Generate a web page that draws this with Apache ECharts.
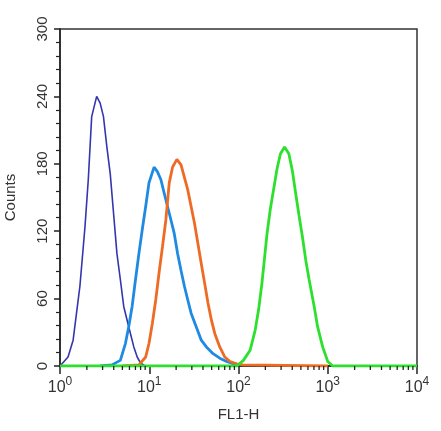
<!DOCTYPE html>
<html>
<head>
<meta charset="utf-8">
<script src="https://cdn.jsdelivr.net/npm/echarts@6/dist/echarts.min.js"></script>
<style>
html,body{margin:0;padding:0;background:#fff;}
#chart{width:441px;height:431px;}
</style>
</head>
<body>
<div id="chart"></div>
<script>
// x values are log10(FL1-H)
const yTicks = [0, 60, 120, 180, 240, 300];
const xDecades = [0, 1, 2, 3, 4];

const navyX = [0.0, 0.015, 0.09, 0.147, 0.185, 0.223, 0.28, 0.317, 0.355, 0.411, 0.45, 0.487, 0.525, 0.563, 0.6, 0.638, 0.676, 0.714, 0.77, 0.827, 0.865, 0.9, 0.95];
const navyY = [0, 1, 8, 23, 47, 71, 124, 166, 222, 240, 234, 222, 195, 171, 136, 100, 77, 53, 35, 17, 8, 3, 0];

const skyX = [0.45, 0.582, 0.676, 0.733, 0.77, 0.808, 0.846, 0.884, 0.921, 0.96, 0.997, 1.054, 1.091, 1.13, 1.167, 1.205, 1.243, 1.28, 1.318, 1.356, 1.394, 1.431, 1.469, 1.526, 1.583, 1.64, 1.715, 1.79, 1.866, 1.94, 2.0];
const skyY = [0, 1, 5, 20, 35, 53, 77, 100, 121, 142, 163, 177, 173, 166, 154, 142, 130, 118, 100, 85, 71, 59, 47, 35, 23, 17, 11, 7, 4, 2, 0];

const orangeX = [0.7, 0.884, 0.96, 0.997, 1.035, 1.073, 1.11, 1.148, 1.186, 1.224, 1.261, 1.31, 1.356, 1.394, 1.431, 1.469, 1.507, 1.545, 1.583, 1.62, 1.658, 1.696, 1.734, 1.79, 1.847, 1.904, 1.98, 2.05, 3.0];
const orangeY = [0, 1, 8, 20, 38, 59, 83, 106, 130, 163, 177, 184, 179, 168, 157, 142, 127, 109, 91, 74, 56, 41, 29, 17, 8, 4, 2, 1, 0];

const greenX = [0.0, 1.98, 2.055, 2.13, 2.187, 2.225, 2.263, 2.289, 2.32, 2.357, 2.395, 2.433, 2.47, 2.516, 2.564, 2.603, 2.64, 2.678, 2.716, 2.754, 2.791, 2.848, 2.886, 2.943, 3.0, 3.055, 4.0];
const greenY = [0, 0, 5, 14, 32, 50, 74, 94, 118, 140, 158, 176, 189, 195, 189, 174, 154, 134, 115, 94, 77, 53, 35, 17, 4, 0, 0];

const zip = (xs, ys) => xs.map((x, i) => [x, ys[i]]);

const minorLogTicks = [];
for (let d = 0; d < 4; d++) {
  for (let k = 2; k <= 9; k++) minorLogTicks.push([d + Math.log10(k), 0]);
}

const FONT = "'Liberation Sans', Arial, Helvetica, sans-serif";
const chart = echarts.init(document.getElementById('chart'));
chart.setOption({
  animation: false,
  backgroundColor: '#fff',
  grid: { left: 60, right: 24, top: 29, bottom: 65, containLabel: false, outerBoundsMode: 'none', show: true, borderColor: '#333', borderWidth: 1.5 },
  xAxis: {
    type: 'value', min: 0, max: 4, interval: 1,
    name: 'FL1-H', nameLocation: 'middle', nameGap: 41,
    nameTextStyle: { fontFamily: FONT, fontSize: 15, color: '#333' },
    axisLine: { show: true, lineStyle: { color: '#222', width: 1.5 } },
    axisTick: { show: true, inside: false, length: 8, lineStyle: { color: '#222', width: 1.5 } },
    splitLine: { show: false },
    axisLabel: {
      margin: 10, fontFamily: FONT, color: '#333',
      formatter: v => '{b|10}{s|' + v + '}',
      rich: {
        b: { fontFamily: FONT, fontSize: 16, color: '#333' },
        s: { fontFamily: FONT, fontSize: 12, color: '#333', padding: [0, 0, 11, 0] }
      }
    }
  },
  yAxis: {
    type: 'value', min: 0, max: 300, interval: 60,
    name: 'Counts', nameLocation: 'middle', nameGap: 42, nameRotate: 90,
    nameTextStyle: { fontFamily: FONT, fontSize: 15, color: '#333' },
    axisLine: { show: true, lineStyle: { color: '#222', width: 1.5 } },
    axisTick: { show: true, inside: false, length: 6, lineStyle: { color: '#222', width: 1.5 } },
    minorTick: { show: true, splitNumber: 5, length: 4, lineStyle: { color: '#222', width: 1.2 } },
    splitLine: { show: false },
    axisLabel: { rotate: 90, margin: 10, fontFamily: FONT, fontSize: 15, color: '#333' }
  },
  series: [
    { type: 'line', data: zip(navyX, navyY), symbol: 'none', lineStyle: { color: '#3535ad', width: 1.6 }, z: 2 },
    { type: 'line', data: zip(skyX, skyY), symbol: 'none', lineStyle: { color: '#1f8ae2', width: 2.8 }, z: 3 },
    { type: 'line', data: zip(orangeX, orangeY), symbol: 'none', lineStyle: { color: '#ee6b25', width: 2.8 }, z: 4 },
    { type: 'line', data: zip(greenX, greenY), symbol: 'none', lineStyle: { color: '#2ee02e', width: 2.8 }, z: 5 },
    {
      type: 'custom', clip: false, silent: true, z: 6,
      data: minorLogTicks,
      renderItem: (params, api) => {
        const p = api.coord([api.value(0), 0]);
        return { type: 'line', shape: { x1: p[0], y1: p[1], x2: p[0], y2: p[1] + 4 }, style: { stroke: '#222', lineWidth: 1.3 } };
      }
    }
  ]
});
</script>
</body>
</html>
